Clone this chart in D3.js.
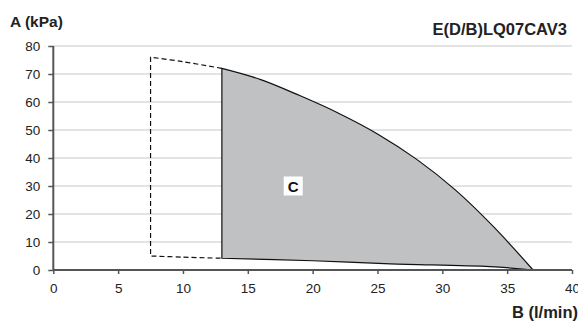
<html>
<head>
<meta charset="utf-8">
<script src="https://d3js.org/d3.v7.min.js"></script>
<style>
  body { margin: 0; background: #fff; }
  text { font-family: "Liberation Sans", Arial, sans-serif; }
</style>
</head>
<body>
<svg width="578" height="321"></svg>
<script>
// data
var xTicks = [0, 5, 10, 15, 20, 25, 30, 35, 40];
var yTicks = [0, 10, 20, 30, 40, 50, 60, 70, 80];
var upperCurve = [[13, 72], [16, 68], [19, 62.3], [22, 56], [25, 48.6], [28, 39.6], [31, 28.6], [34, 15.2], [37, 0]];
var lowerCurve = [[13, 4.2], [20, 3.3], [26, 2.2], [33.7, 1.2], [37, 0]];
var dashedUpper = [[7.5, 76], [10, 74.4], [13, 72]];
var dashedLower = [[7.5, 5], [10, 4.6], [13, 4.2]];
var areaLabel = {x: 18.5, y: 30, text: "C"};

var svg = d3.select("svg");
var plotLeft = 53.3, plotRight = 572, plotTop = 46, plotBottom = 270;

var xScale = d3.scaleLinear().domain([0, 40]).range([plotLeft, plotRight]);
var yScale = d3.scaleLinear().domain([0, 80]).range([plotBottom, plotTop]);

// gridlines
svg.append("g").selectAll("line")
  .data(yTicks.filter(d => d > 0))
  .enter().append("line")
  .attr("x1", plotLeft).attr("x2", plotRight)
  .attr("y1", d => yScale(d)).attr("y2", d => yScale(d))
  .attr("stroke", "#c8c8c8").attr("stroke-width", 1);

var line = d3.line().x(d => xScale(d[0])).y(d => yScale(d[1])).curve(d3.curveCatmullRom.alpha(0.5));

// shaded operating area
var upperPath = line(upperCurve);
var lowerRev = line(lowerCurve.slice().reverse());
svg.append("path")
  .attr("d", upperPath + "L" + lowerRev.slice(1) + "Z")
  .attr("fill", "#c0c1c3")
  .attr("stroke", "#111")
  .attr("stroke-width", 1.2);

// dashed extension
svg.append("path")
  .attr("d", line(dashedUpper.slice().reverse()) + "L" + line(dashedLower).slice(1))
  .attr("fill", "none")
  .attr("stroke", "#111")
  .attr("stroke-width", 1.2)
  .attr("stroke-dasharray", "5,3");

// label box
var lx = xScale(areaLabel.x), ly = yScale(areaLabel.y);
svg.append("rect")
  .attr("x", lx - 9.5).attr("y", ly - 9.5)
  .attr("width", 19).attr("height", 19)
  .attr("fill", "#fff");
svg.append("text")
  .attr("x", lx).attr("y", ly + 5.5)
  .attr("text-anchor", "middle")
  .attr("font-size", 15).attr("font-weight", "bold")
  .attr("fill", "#111")
  .text(areaLabel.text);

// axes
var xAxis = d3.axisBottom(xScale).tickValues(xTicks).tickSize(4).tickPadding(9);
var yAxis = d3.axisLeft(yScale).tickValues(yTicks).tickSize(5).tickPadding(8);

var gx = svg.append("g").attr("transform", "translate(0," + plotBottom + ")").call(xAxis);
var gy = svg.append("g").attr("transform", "translate(" + plotLeft + ",0)").call(yAxis);

[gx, gy].forEach(function (g) {
  g.select(".domain").attr("stroke", "#555").attr("stroke-width", 2);
  g.selectAll(".tick line").attr("stroke", "#555").attr("stroke-width", 1.5);
  g.selectAll(".tick text")
    .attr("font-family", "Liberation Sans, Arial, sans-serif")
    .attr("font-size", 13.5).attr("fill", "#222");
});
gx.select(".domain").attr("d", "M" + plotLeft + ",0H" + plotRight);
gy.select(".domain").attr("d", "M0," + plotTop + "V" + plotBottom);

// titles
svg.append("text").attr("x", 10).attr("y", 27)
  .attr("font-size", 15.5).attr("font-weight", "bold").attr("fill", "#222")
  .text("A (kPa)");
svg.append("text").attr("x", 567).attr("y", 35)
  .attr("text-anchor", "end")
  .attr("font-size", 16.5).attr("font-weight", "bold").attr("fill", "#222")
  .text("E(D/B)LQ07CAV3");
svg.append("text").attr("x", 578).attr("y", 318)
  .attr("text-anchor", "end")
  .attr("font-size", 16.5).attr("font-weight", "bold").attr("fill", "#222")
  .text("B (l/min)");
</script>
</body>
</html>
